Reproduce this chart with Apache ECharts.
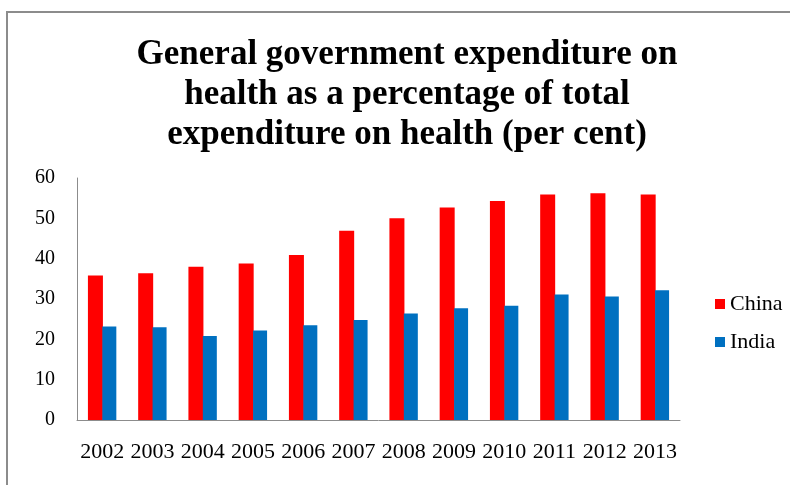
<!DOCTYPE html>
<html>
<head>
<meta charset="utf-8">
<script src="https://cdn.jsdelivr.net/npm/echarts@6/dist/echarts.min.js"></script>
<style>
  html, body { margin: 0; padding: 0; background: #fff; }
  #chart { width: 790px; height: 485px; }
</style>
</head>
<body>
<div id="chart"></div>
<script>
// 数据
const years = ["2002", "2003", "2004", "2005", "2006", "2007", "2008", "2009", "2010", "2011", "2012", "2013"];
const china = [35.8, 36.4, 38.0, 38.8, 40.9, 46.9, 50.0, 52.7, 54.3, 55.9, 56.2, 55.9];
const india = [23.2, 23.0, 20.8, 22.2, 23.5, 24.8, 26.4, 27.7, 28.3, 31.1, 30.6, 32.2];

const serif = "'Liberation Serif', 'DejaVu Serif', serif";

const myChart = echarts.init(document.getElementById("chart"));

const option = {
  animation: false,
  backgroundColor: "#fff",
  title: {
    text: "General government expenditure on\nhealth as a percentage of total\nexpenditure on health (per cent)",
    left: 402,
    textAlign: "center",
    top: 30,
    textStyle: {
      fontFamily: serif,
      fontWeight: "bold",
      fontSize: 35,
      lineHeight: 40,
      color: "#000",
    },
  },
  graphic: [
    {
      type: "rect",
      shape: { x: 7, y: 12, width: 800, height: 500 },
      style: { fill: "none", stroke: "#8c8c8c", lineWidth: 2 },
      silent: true,
    },
  ],
  legend: {
    orient: "vertical",
    left: 710,
    top: 288,
    itemWidth: 10,
    itemHeight: 10,
    itemGap: 16,
    icon: "rect",
    textStyle: { fontFamily: serif, fontSize: 22, color: "#000" },
    data: ["China", "India"],
  },
  grid: {
    left: 77,
    right: 110,
    top: 178,
    bottom: 65,
  },
  xAxis: {
    type: "category",
    data: years,
    axisTick: { show: false },
    axisLine: { lineStyle: { color: "#8c8c8c", width: 1 } },
    axisLabel: {
      fontFamily: serif,
      fontSize: 22,
      color: "#000",
      margin: 21,
      interval: 0,
    },
  },
  yAxis: {
    type: "value",
    min: 0,
    max: 60,
    interval: 10,
    splitLine: { show: false },
    axisTick: { show: false },
    axisLine: { show: true, lineStyle: { color: "#8c8c8c", width: 1 } },
    axisLabel: {
      fontFamily: serif,
      fontSize: 20,
      color: "#000",
      margin: 22,
    },
  },
  series: [
    {
      name: "China",
      type: "bar",
      data: china,
      color: "#ff0000",
      barWidth: 15,
      barGap: "-4%",
    },
    {
      name: "India",
      type: "bar",
      data: india,
      color: "#0070c0",
      barWidth: 14,
    },
  ],
};
myChart.setOption(option);
</script>
</body>
</html>
